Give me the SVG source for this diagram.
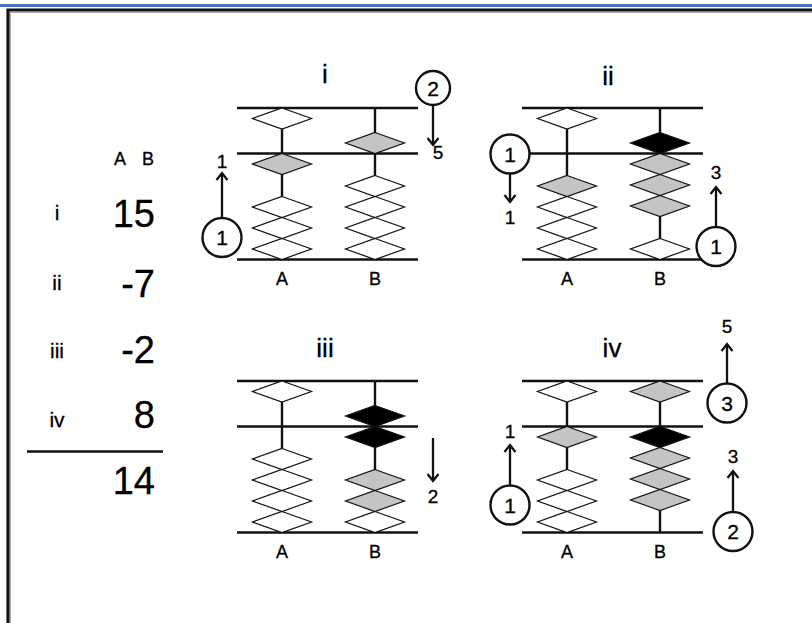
<svg xmlns="http://www.w3.org/2000/svg" xmlns:xlink="http://www.w3.org/1999/xlink" width="812" height="623" viewBox="0 0 812 623">
  <style>
    text { font-family: "Liberation Sans", Arial, Helvetica, sans-serif; fill: #000; stroke: #000; stroke-width: 0.3; }
    .bar { stroke: #111; stroke-width: 2.7; fill: none; }
    .rod { stroke: #111; stroke-width: 2.4; fill: none; }
    .bead { stroke: #111; stroke-width: 1.2; stroke-linejoin: miter; }
    .w { fill: #fff; }
    .g { fill: #c4c4c4; }
    .k { fill: #000; }
    .ring { fill: #fff; stroke: #111; stroke-width: 2.4; }
    .arrow { stroke: #111; stroke-width: 2.3; fill: none; marker-end: url(#head); }
    .title { font-size: 26px; text-anchor: middle; }
    .col { font-size: 18px; text-anchor: middle; }
    .num { font-size: 19px; text-anchor: middle; }
    .inner { font-size: 21px; text-anchor: middle; }
    .roman { font-size: 21px; text-anchor: middle; }
    .val { font-size: 38px; text-anchor: end; }
  </style>
  <defs>
    <!-- one abacus bead: 59 wide, 21 tall, top vertex at origin -->
    <path id="bead" d="M0,0 L29.5,10.5 L0,21 L-29.5,10.5 Z"/>
    <marker id="head" markerUnits="userSpaceOnUse" markerWidth="14" markerHeight="14" viewBox="-8 -7 10 14" refX="0" refY="0" orient="auto">
      <path d="M-7,-5.5 L0,0 L-7,5.5" fill="none" stroke="#111" stroke-width="2.3"/>
    </marker>
    <!-- frame of one abacus: three bars and two rods -->
    <g id="frame">
      <line class="bar" x1="0" y1="0" x2="181" y2="0"/>
      <line class="bar" x1="0" y1="45.5" x2="181" y2="45.5"/>
      <line class="bar" x1="0" y1="151.5" x2="181" y2="151.5"/>
      <line class="rod" x1="45" y1="0" x2="45" y2="151.5"/>
      <line class="rod" x1="138" y1="0" x2="138" y2="151.5"/>
    </g>
  </defs>

  <!-- page frame -->
  <rect x="0" y="4" width="812" height="3" fill="#4a72c2"/>
  <path d="M8,623 V10 H812" fill="none" stroke="#111" stroke-width="3.2"/>
  <path d="M10.5,623 V12.5 H812" fill="none" stroke="#aaa" stroke-width="1"/>

  <!-- running total -->
  <g id="table">
    <text class="col" x="120" y="165">A</text>
    <text class="col" x="148" y="165">B</text>
    <text class="roman" x="57" y="220">i</text>
    <text class="val" x="155" y="227">15</text>
    <text class="roman" x="57" y="290">ii</text>
    <text class="val" x="155" y="297">-7</text>
    <text class="roman" x="57" y="358">iii</text>
    <text class="val" x="155" y="363">-2</text>
    <text class="roman" x="57" y="427">iv</text>
    <text class="val" x="155" y="428">8</text>
    <line x1="27" y1="451.5" x2="163" y2="451.5" stroke="#111" stroke-width="2.4"/>
    <text class="val" x="155" y="494">14</text>
  </g>

  <!-- step i : 15 -->
  <g id="abacus-i" transform="translate(237,108)">
    <use xlink:href="#frame"/>
    <use xlink:href="#bead" class="bead w" x="45" y="0"/>
    <use xlink:href="#bead" class="bead g" x="45" y="45.5"/>
    <use xlink:href="#bead" class="bead w" x="45" y="88.5"/>
    <use xlink:href="#bead" class="bead w" x="45" y="109.5"/>
    <use xlink:href="#bead" class="bead w" x="45" y="130.5"/>
    <use xlink:href="#bead" class="bead g" x="138" y="24.5"/>
    <use xlink:href="#bead" class="bead w" x="138" y="67.5"/>
    <use xlink:href="#bead" class="bead w" x="138" y="88.5"/>
    <use xlink:href="#bead" class="bead w" x="138" y="109.5"/>
    <use xlink:href="#bead" class="bead w" x="138" y="130.5"/>
    <text class="title" x="88" y="-25">i</text>
    <text class="col" x="45" y="177">A</text>
    <text class="col" x="138" y="177">B</text>
  </g>

  <!-- step ii : -7 -->
  <g id="abacus-ii" transform="translate(522,108)">
    <use xlink:href="#frame"/>
    <use xlink:href="#bead" class="bead w" x="45" y="0"/>
    <use xlink:href="#bead" class="bead g" x="45" y="67.5"/>
    <use xlink:href="#bead" class="bead w" x="45" y="88.5"/>
    <use xlink:href="#bead" class="bead w" x="45" y="109.5"/>
    <use xlink:href="#bead" class="bead w" x="45" y="130.5"/>
    <use xlink:href="#bead" class="bead k" x="138" y="24.5"/>
    <use xlink:href="#bead" class="bead g" x="138" y="45.5"/>
    <use xlink:href="#bead" class="bead g" x="138" y="66.5"/>
    <use xlink:href="#bead" class="bead g" x="138" y="87.5"/>
    <use xlink:href="#bead" class="bead w" x="138" y="130.5"/>
    <text class="title" x="86" y="-23">ii</text>
    <text class="col" x="45" y="177">A</text>
    <text class="col" x="138" y="177">B</text>
  </g>

  <!-- step iii : -2 -->
  <g id="abacus-iii" transform="translate(237,381)">
    <use xlink:href="#frame"/>
    <use xlink:href="#bead" class="bead w" x="45" y="0"/>
    <use xlink:href="#bead" class="bead w" x="45" y="67.5"/>
    <use xlink:href="#bead" class="bead w" x="45" y="88.5"/>
    <use xlink:href="#bead" class="bead w" x="45" y="109.5"/>
    <use xlink:href="#bead" class="bead w" x="45" y="130.5"/>
    <use xlink:href="#bead" class="bead k" x="138" y="24.5"/>
    <use xlink:href="#bead" class="bead k" x="138" y="45.5"/>
    <use xlink:href="#bead" class="bead g" x="138" y="88.5"/>
    <use xlink:href="#bead" class="bead g" x="138" y="109.5"/>
    <use xlink:href="#bead" class="bead w" x="138" y="130.5"/>
    <text class="title" x="88" y="-24">iii</text>
    <text class="col" x="45" y="177">A</text>
    <text class="col" x="138" y="177">B</text>
  </g>

  <!-- step iv : 8 -->
  <g id="abacus-iv" transform="translate(522,381)">
    <use xlink:href="#frame"/>
    <use xlink:href="#bead" class="bead w" x="45" y="0"/>
    <use xlink:href="#bead" class="bead g" x="45" y="45.5"/>
    <use xlink:href="#bead" class="bead w" x="45" y="88.5"/>
    <use xlink:href="#bead" class="bead w" x="45" y="109.5"/>
    <use xlink:href="#bead" class="bead w" x="45" y="130.5"/>
    <use xlink:href="#bead" class="bead g" x="138" y="0"/>
    <use xlink:href="#bead" class="bead k" x="138" y="45.5"/>
    <use xlink:href="#bead" class="bead g" x="138" y="66.5"/>
    <use xlink:href="#bead" class="bead g" x="138" y="87.5"/>
    <use xlink:href="#bead" class="bead g" x="138" y="108.5"/>
    <text class="title" x="90" y="-24">iv</text>
    <text class="col" x="45" y="177">A</text>
    <text class="col" x="138" y="177">B</text>
  </g>

  <!-- bead moves: arrows and counters -->
  <g id="moves">
    <line class="arrow" x1="222" y1="218" x2="222" y2="173"/>
    <line class="arrow" x1="433" y1="105" x2="433" y2="145"/>
    <line class="arrow" x1="510" y1="173" x2="510" y2="202"/>
    <line class="arrow" x1="716" y1="227" x2="716" y2="187"/>
    <line class="arrow" x1="433" y1="438" x2="433" y2="481"/>
    <line class="arrow" x1="510" y1="486" x2="510" y2="445"/>
    <line class="arrow" x1="727" y1="384" x2="727" y2="344"/>
    <line class="arrow" x1="733" y1="512" x2="733" y2="471"/>
  </g>

  <g id="counter-i-1">
    <circle class="ring" cx="222" cy="237.5" r="19.5"/>
    <text class="inner" x="222" y="245">1</text>
    <text class="num" x="222" y="168">1</text>
  </g>
  <g id="counter-i-2">
    <circle class="ring" cx="433" cy="88" r="17"/>
    <text class="inner" x="433" y="95.5">2</text>
    <text class="num" x="438" y="159">5</text>
  </g>
  <g id="counter-ii-1">
    <circle class="ring" cx="510" cy="154" r="19.5"/>
    <text class="inner" x="510" y="161.5">1</text>
    <text class="num" x="510" y="224">1</text>
  </g>
  <g id="counter-ii-2">
    <circle class="ring" cx="716" cy="246.5" r="19.5"/>
    <text class="inner" x="716" y="254">1</text>
    <text class="num" x="716" y="179">3</text>
  </g>
  <g id="counter-iii">
    <text class="num" x="433" y="503">2</text>
  </g>
  <g id="counter-iv-1">
    <circle class="ring" cx="510" cy="505" r="19.5"/>
    <text class="inner" x="510" y="512.5">1</text>
    <text class="num" x="510" y="438">1</text>
  </g>
  <g id="counter-iv-2">
    <circle class="ring" cx="733" cy="531.5" r="19.5"/>
    <text class="inner" x="733" y="539">2</text>
    <text class="num" x="733" y="463">3</text>
  </g>
  <g id="counter-iv-3">
    <circle class="ring" cx="727" cy="403" r="19.5"/>
    <text class="inner" x="727" y="410.5">3</text>
    <text class="num" x="727" y="333">5</text>
  </g>
</svg>
